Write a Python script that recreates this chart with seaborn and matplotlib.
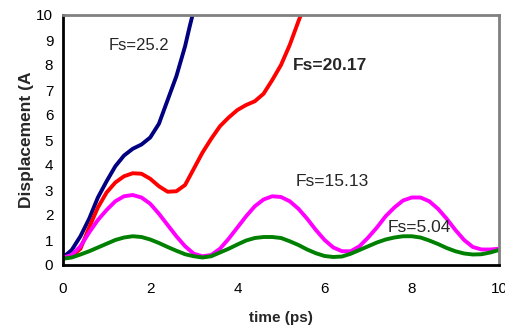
import numpy as np
import pandas as pd
import matplotlib
matplotlib.use("Agg")
import matplotlib.pyplot as plt
import seaborn as sns

t_blue = [0, 0.2, 0.4, 0.6, 0.8, 1.0, 1.2, 1.4, 1.6, 1.8, 2.0, 2.2, 2.4, 2.6, 2.8, 2.9, 3.0]
v_blue = [0.3, 0.6, 1.15, 1.85, 2.7, 3.35, 3.95, 4.38, 4.65, 4.82, 5.1, 5.65, 6.6, 7.55,
          8.75, 9.5, 10.2]

t_red = [0, 0.2, 0.4, 0.6, 0.8, 1.0, 1.2, 1.4, 1.6, 1.8, 2.0, 2.2, 2.4, 2.6, 2.8, 3.0,
         3.2, 3.4, 3.6, 3.8, 4.0, 4.2, 4.4, 4.6, 4.8, 5.0, 5.2, 5.4, 5.5]
v_red = [0.3, 0.35, 0.65, 1.5, 2.3, 2.9, 3.3, 3.55, 3.67, 3.65, 3.45, 3.15, 2.93, 2.95,
         3.2, 3.85, 4.5, 5.05, 5.55, 5.9, 6.2, 6.4, 6.55, 6.85, 7.4, 8.0, 8.8, 9.75, 10.2]

t_mag = [round(0.2 * i, 1) for i in range(51)]
v_mag = [0.3, 0.4, 0.75, 1.3, 1.8, 2.2, 2.55, 2.75, 2.8, 2.7, 2.45, 2.05, 1.6, 1.15, 0.75,
         0.45, 0.35, 0.4, 0.65, 1.05, 1.5, 1.95, 2.35, 2.62, 2.75, 2.72, 2.55, 2.25, 1.85,
         1.4, 1.0, 0.7, 0.55, 0.55, 0.75, 1.1, 1.5, 1.95, 2.3, 2.58, 2.7, 2.7, 2.55, 2.25,
         1.85, 1.4, 1.0, 0.72, 0.62, 0.62, 0.65]

t_green = [round(0.2 * i, 1) for i in range(51)]
v_green = [0.25, 0.3, 0.42, 0.55, 0.7, 0.85, 1.0, 1.1, 1.15, 1.12, 1.02, 0.88, 0.72, 0.57,
           0.43, 0.35, 0.3, 0.35, 0.5, 0.65, 0.82, 0.98, 1.08, 1.12, 1.12, 1.08, 0.95, 0.8,
           0.62, 0.47, 0.36, 0.32, 0.34, 0.45, 0.6, 0.75, 0.9, 1.02, 1.1, 1.15, 1.15, 1.1,
           0.98, 0.84, 0.68, 0.55, 0.46, 0.42, 0.43, 0.5, 0.6]

series = ["Fs=25.2", "Fs=20.17", "Fs=15.13", "Fs=5.04"]
colors = ["#000080", "#FF0000", "#FF00FF", "#008000"]

frames = []
for name, t, v in zip(series, [t_blue, t_red, t_mag, t_green], [v_blue, v_red, v_mag, v_green]):
    frames.append(pd.DataFrame({"t": t, "v": v, "series": name}))
df = pd.concat(frames, ignore_index=True)

sns.set_style("white")
plt.rcParams["font.family"] = ["Liberation Sans", "DejaVu Sans"]

fig = plt.figure(figsize=(5.05, 3.29), dpi=100)
ax = fig.add_axes([63 / 505, 64 / 329, 436 / 505, 250 / 329])

sns.lineplot(data=df, x="t", y="v", hue="series", hue_order=series,
             palette=dict(zip(series, colors)), sort=False, estimator=None,
             linewidth=2.8, legend=False, ax=ax)

ax.set_xlim(0, 10)
ax.set_ylim(0, 10)
ax.set_xticks([0, 2, 4, 6, 8, 10])
ax.set_yticks(range(0, 11))
ax.tick_params(axis="both", direction="out", length=4, width=1.5, colors="black",
               labelsize=11, pad=3)
ax.tick_params(axis="x", pad=8)
for s in ["left", "bottom"]:
    ax.spines[s].set_color("black")
    ax.spines[s].set_linewidth(2)
for s in ["right", "top"]:
    ax.spines[s].set_color("#808080")
    ax.spines[s].set_linewidth(2)

ax.set_xlabel("time (ps)", fontsize=11, fontweight="bold", labelpad=11)
ax.set_ylabel("Displacement (A", fontsize=12.5, fontweight="bold", labelpad=2)

ax.text(1.75, 8.8, "Fs=25.2", fontsize=12, ha="center", va="center")
ax.text(6.13, 8.0, "Fs=20.17", fontsize=12.5, fontweight="bold", ha="center", va="center")
ax.text(6.18, 3.36, "Fs=15.13", fontsize=12.5, ha="center", va="center")
ax.text(8.17, 1.48, "Fs=5.04", fontsize=12.5, ha="center", va="center")

fig.savefig("out.png", dpi=100)
